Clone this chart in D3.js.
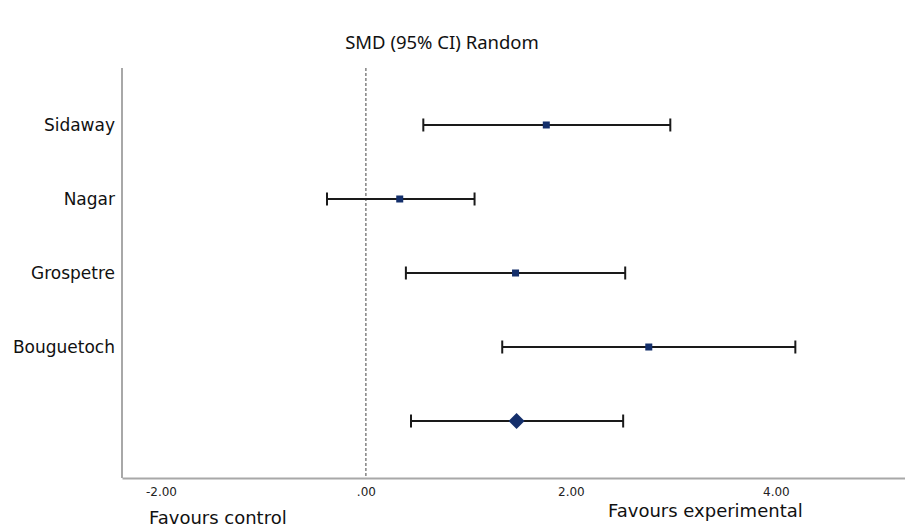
<!DOCTYPE html>
<html>
<head>
<meta charset="utf-8">
<script src="https://cdn.jsdelivr.net/npm/d3@7"></script>
<style>
  html, body { margin: 0; padding: 0; background: #fff; }
  svg { display: block; }
</style>
</head>
<body>
<svg id="chart" width="905" height="529"></svg>
<script>
// ---- data ----
const studies = ["Sidaway", "Nagar", "Grospetre", "Bouguetoch"];
const smd     = [1.76, 0.33, 1.46, 2.76];
const lower   = [0.56, -0.38, 0.39, 1.33];
const upper   = [2.97, 1.06, 2.53, 4.19];
const pooled  = { smd: 1.47, lower: 0.44, upper: 2.51 };
const tickValues = [-2, 0, 2, 4];
const tickLabels = ["-2.00", ".00", "2.00", "4.00"];
const title = "SMD (95% CI) Random";
const leftLabel = "Favours control";
const rightLabel = "Favours experimental";

(function () {
// ---- layout ----
const svg = d3.select("#chart");
const plotL = 122, plotR = 905, plotT = 68, plotB = 478;

const x = d3.scaleLinear().domain([-2.38, 5.26]).range([plotL, plotR]);
const rows = studies.concat(["__pooled"]);
const y = d3.scalePoint().domain(rows).range([plotT, plotB]).padding(0.77);

const navy = "#142f6b";

// title
svg.append("text")
  .attr("x", 442).attr("y", 49)
  .attr("text-anchor", "middle")
  .style("font-family", "'Noto Sans', sans-serif")
  .style("font-size", "18.5px")
  .attr("fill", "#111")
  .text(title);

// axes lines
svg.append("line")
  .attr("x1", plotL).attr("x2", plotL).attr("y1", plotT).attr("y2", plotB)
  .attr("stroke", "#a8a8a8").attr("stroke-width", 2);

const xAxis = d3.axisBottom(x)
  .tickValues(tickValues)
  .tickSize(0)
  .tickPadding(9)
  .tickFormat((d, i) => tickLabels[i]);

const gx = svg.append("g").attr("transform", `translate(0,${plotB})`).call(xAxis);
gx.select(".domain").attr("stroke", "#a8a8a8").attr("stroke-width", 2);
gx.selectAll("text")
  .style("font-family", "'DejaVu Sans', sans-serif")
  .style("font-size", "12px")
  .attr("fill", "#222");

// y labels
svg.append("g").selectAll("text")
  .data(studies).join("text")
  .attr("x", 115).attr("y", d => y(d))
  .attr("dy", "0.35em")
  .attr("text-anchor", "end")
  .style("font-family", "'DejaVu Sans', sans-serif")
  .style("font-size", "17px")
  .attr("fill", "#111")
  .text(d => d);

// zero reference line
svg.append("line")
  .attr("x1", x(0)).attr("x2", x(0)).attr("y1", plotT).attr("y2", plotB)
  .attr("stroke", "#444").attr("stroke-width", 1)
  .attr("stroke-dasharray", "3,2");

// whiskers
const allRows = studies.map((s, i) => ({ id: s, m: smd[i], lo: lower[i], hi: upper[i] }))
  .concat([{ id: "__pooled", m: pooled.smd, lo: pooled.lower, hi: pooled.upper }]);

const g = svg.append("g");
const cap = 6.5;
allRows.forEach(r => {
  const yy = y(r.id);
  g.append("line").attr("x1", x(r.lo)).attr("x2", x(r.hi)).attr("y1", yy).attr("y2", yy)
    .attr("stroke", "#1a1a1a").attr("stroke-width", 2);
  [r.lo, r.hi].forEach(v => {
    g.append("line").attr("x1", x(v)).attr("x2", x(v)).attr("y1", yy - cap).attr("y2", yy + cap)
      .attr("stroke", "#1a1a1a").attr("stroke-width", 2);
  });
});

// study squares
g.selectAll("rect.pt")
  .data(allRows.filter(r => r.id !== "__pooled"))
  .join("rect").attr("class", "pt")
  .attr("x", d => x(d.m) - 3.5).attr("y", d => y(d.id) - 3.5)
  .attr("width", 7).attr("height", 7)
  .attr("fill", navy);

// pooled diamond
const pr = allRows[allRows.length - 1];
const px = x(pr.m), py = y(pr.id), dw = 8, dh = 8;
g.append("path")
  .attr("d", `M${px - dw},${py} L${px},${py - dh} L${px + dw},${py} L${px},${py + dh} Z`)
  .attr("fill", navy);

// bottom labels
svg.append("text")
  .attr("x", 149).attr("y", 524)
  .style("font-family", "'DejaVu Sans', sans-serif")
  .style("font-size", "18px")
  .attr("fill", "#111")
  .text(leftLabel);
svg.append("text")
  .attr("x", 608).attr("y", 517)
  .style("font-family", "'DejaVu Sans', sans-serif")
  .style("font-size", "18px")
  .attr("fill", "#111")
  .text(rightLabel);
})();
</script>
</body>
</html>
